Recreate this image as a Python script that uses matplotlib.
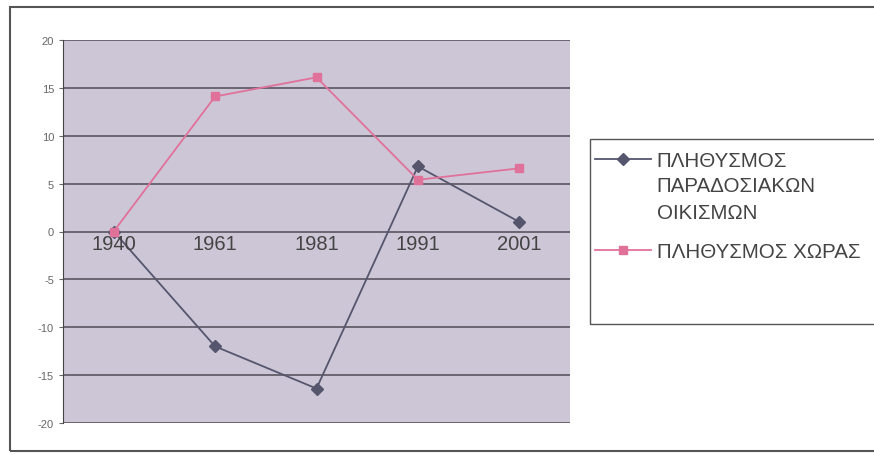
import numpy as np
import matplotlib.pyplot as plt
from matplotlib.patches import Rectangle
from matplotlib.lines import Line2D

years = ["1940", "1961", "1981", "1991", "2001"]
settlements = [0, -12.0, -16.4, 6.8, 1.0]
country = [0, 14.1, 16.1, 5.4, 6.6]
label_settl = ["ΠΛΗΘΥΣΜΟΣ", "ΠΑΡΑΔΟΣΙΑΚΩΝ\nΟΙΚΙΣΜΩΝ"]
label_country = "ΠΛΗΘΥΣΜΟΣ ΧΩΡΑΣ"

plt.rcParams["font.family"] = ["Liberation Sans", "DejaVu Sans"]
plt.rcParams["axes.unicode_minus"] = False

W, H = 874, 456
fig = plt.figure(figsize=(W / 100, H / 100), dpi=100)
fig.patch.set_facecolor("white")

# outer chart frame (right edge runs off the picture)
fig.patches.append(Rectangle((10 / W, 4 / H), 880 / W, 444 / H,
                             transform=fig.transFigure, fill=False,
                             edgecolor="#555555", linewidth=1.5))
# legend frame
fig.patches.append(Rectangle((590 / W, 1 - 325 / H), 300 / W, 185 / H,
                             transform=fig.transFigure, fill=False,
                             edgecolor="#555555", linewidth=1.0))

ax = fig.add_axes([63 / W, 32 / H, 507 / W, 383 / H])
ax.set_facecolor("#cdc6d6")

x = np.arange(len(years))
l1, = ax.plot(x, settlements, "-D", color="#55566e", markersize=6, linewidth=1.3)
l2, = ax.plot(x, country, "-s", color="#e0729a", markersize=6, linewidth=1.3)

ax.set_xlim(-0.5, len(years) - 0.5)
ax.set_ylim(-20, 20)
ax.set_yticks(range(-20, 21, 5))
for v in range(-20, 21, 5):
    ax.axhline(v, color="#5a5560", linewidth=1.2, zorder=0.5)

ax.set_xticks([])
for i, yr in enumerate(years):
    ax.text(i, -0.3, yr, ha="center", va="top", fontsize=14.5, color="#444444")

for s in ["top", "right", "bottom"]:
    ax.spines[s].set_visible(False)
ax.spines["left"].set_color("#444444")
ax.tick_params(axis="y", labelsize=8, colors="#666666", length=3)

# legend: marker sits on the first line of the wrapped label
blank = Line2D([], [], linestyle="none")
leg_kw = dict(frameon=False, fontsize=14.8, handlelength=2.7,
              handletextpad=0.3, borderpad=0.0, borderaxespad=0.0,
              labelspacing=0.3)
leg1 = fig.legend([l1, blank], label_settl, loc="upper left",
                  bbox_to_anchor=(595 / W, 1 - 152 / H), **leg_kw)
leg2 = fig.legend([l2], [label_country], loc="upper left",
                  bbox_to_anchor=(595 / W, 1 - 243 / H), **leg_kw)
for leg in (leg1, leg2):
    for t in leg.get_texts():
        t.set_color("#444444")
        t.set_linespacing(1.5)

plt.savefig("out.png", dpi=100)
